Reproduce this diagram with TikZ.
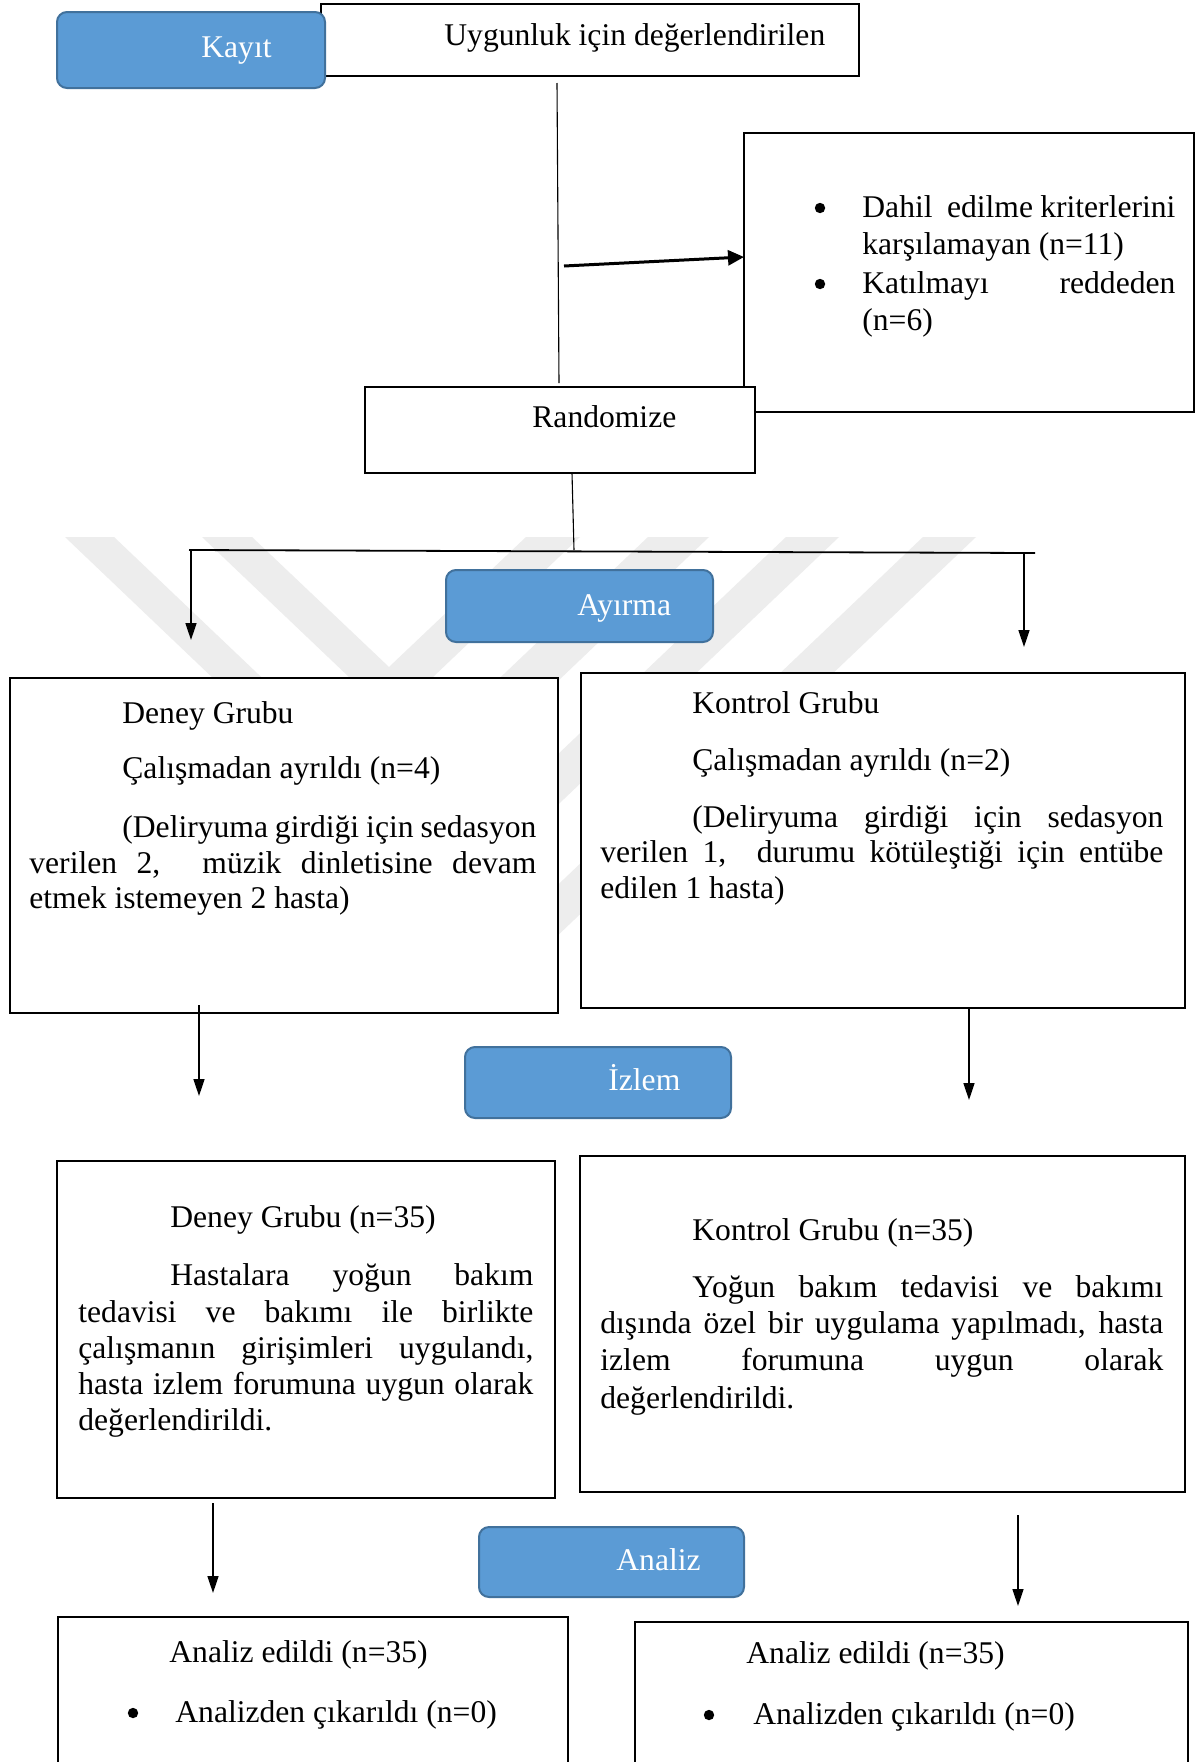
\documentclass[tikz,border=0pt]{standalone}
\usepackage{fontspec}
\setmainfont{Liberation Serif}
\usetikzlibrary{fit,arrows.meta}
\definecolor{bluefill}{HTML}{5B9BD5}
\definecolor{blueline}{HTML}{41719C}
\definecolor{wmgray}{HTML}{EDEDED}
\begin{document}
\begin{tikzpicture}[x=0.5pt,y=-0.5pt,
  box/.style={draw=black,line width=1.1pt,fill=white,inner sep=0pt},
  phase/.style={draw=blueline,line width=1pt,fill=bluefill,rounded corners=5pt,inner sep=0pt},
  txt/.style={anchor=base west,inner sep=0pt,font=\fontsize{15.8}{18}\selectfont},
  wtxt/.style={txt,text=white},
  bul/.style={circle,fill=black,inner sep=0pt,minimum size=5.2pt},
  thinline/.style={line width=0.55pt},
  hline/.style={line width=0.9pt},
  arr/.style={line width=0.8pt,-{Triangle[length=8.5pt,width=5.5pt]}},
  bigarr/.style={line width=1.5pt,-{Triangle[length=8pt,width=7.5pt]}},
  wm/.style={fill=wmgray,draw=none}]

\clip (0,0) rectangle (1196,1762);
\fill[white] (0,0) rectangle (1196,1762);

% watermark
\path[wm] (202,537) -- (252,537) -- (389,667) -- (526,537) -- (580,537) -- (391,717) -- cycle;
\path[wm] (65,537) -- (114,537) -- (381,791) -- (648,537) -- (709,537) -- (387,844) -- cycle;
\path[wm] (786,537) -- (839,537) -- (353,1000) -- (300,1000) -- cycle;
\path[wm] (923,537) -- (976,537) -- (490,1000) -- (437,1000) -- cycle;

% boxes
\node[box, fit={(321,4) (859,76)}] (uyg) {};
\node[phase, fit={(57,12) (325,88)}] (kayit) {};
\node[box, fit={(744,133) (1194,412)}] (excl) {};
\node[box, fit={(365,387) (755,473)}] (rand) {};
\node[phase, fit={(446,570) (713,642)}] (ayirma) {};
\node[box, fit={(10,678) (558,1013)}] (deney) {};
\node[box, fit={(581,673) (1185,1008)}] (kontrol) {};
\node[phase, fit={(465,1047) (731,1118)}] (izlem) {};
\node[box, fit={(57,1161) (555,1498)}] (deneyb) {};
\node[box, fit={(580,1156) (1185,1492)}] (kontrolb) {};
\node[phase, fit={(479,1527) (744,1597)}] (analiz) {};
\node[box, fit={(58,1617) (568,1800)}] (anl) {};
\node[box, fit={(635,1622) (1188,1800)}] (anr) {};

% texts
\node[wtxt] (tkayit) at (201,57) {Kayıt};
\node[txt] (tuyg) at (444,45) {Uygunluk için değerlendirilen};

\node[bul] (eb1) at (820,208) {};
\node[txt] (e1) at (862,217) {\makebox[156.5pt][s]{Dahil \ edilme kriterlerini}};
\node[txt] (e2) at (862,254) {karşılamayan (n=11)};
\node[bul] (eb2) at (820,284) {};
\node[txt] (e3) at (862,293) {\makebox[156.5pt][s]{Katılmayı reddeden}};
\node[txt] (e4) at (862,330) {(n=6)};

\node[txt] (trand) at (532,427) {Randomize};
\node[wtxt] (tayirma) at (577,615) {Ayırma};

\node[txt] (d1) at (122,723) {Deney Grubu};
\node[txt] (d2) at (122,778) {Çalışmadan ayrıldı (n=4)};
\node[txt] (d3) at (122,837) {\makebox[207pt][s]{(Deliryuma girdiği için sedasyon}};
\node[txt] (d4) at (29,873) {\makebox[253.5pt][s]{verilen 2, \ müzik dinletisine devam}};
\node[txt] (d5) at (29,908) {etmek istemeyen 2 hasta)};

\node[txt] (k1) at (692,713) {Kontrol Grubu};
\node[txt] (k2) at (692,770) {Çalışmadan ayrıldı (n=2)};
\node[txt] (k3) at (692,827) {\makebox[235.5pt][s]{(Deliryuma girdiği için sedasyon}};
\node[txt] (k4) at (600,862) {\makebox[281.5pt][s]{verilen 1, \ durumu kötüleştiği için entübe}};
\node[txt] (k5) at (600,898) {edilen 1 hasta)};

\node[wtxt] (tizlem) at (608,1090) {İzlem};

\node[txt] (db1) at (170,1227) {Deney Grubu (n=35)};
\node[txt] (db2) at (170,1285) {\makebox[181.5pt][s]{Hastalara yoğun bakım}};
\node[txt] (db3) at (78,1322) {\makebox[227.5pt][s]{tedavisi ve bakımı ile birlikte}};
\node[txt] (db4) at (78,1358) {\makebox[227.5pt][s]{çalışmanın girişimleri uygulandı,}};
\node[txt] (db5) at (78,1394) {\makebox[227.5pt][s]{hasta izlem forumuna uygun olarak}};
\node[txt] (db6) at (78,1430) {değerlendirildi.};

\node[txt] (kb1) at (692,1240) {Kontrol Grubu (n=35)};
\node[txt] (kb2) at (692,1297) {\makebox[235.5pt][s]{Yoğun bakım tedavisi ve bakımı}};
\node[txt] (kb3) at (600,1333) {\makebox[281.5pt][s]{dışında özel bir uygulama yapılmadı, hasta}};
\node[txt] (kb4) at (600,1370) {\makebox[281.5pt][s]{izlem forumuna uygun olarak}};
\node[txt] (kb5) at (600,1408) {değerlendirildi.};

\node[wtxt] (tanaliz) at (616,1570) {Analiz};

\node[txt] (al1) at (169,1662) {Analiz edildi (n=35)};
\node[bul] (alb) at (133,1713) {};
\node[txt] (al2) at (175,1722) {Analizden çıkarıldı (n=0)};
\node[txt] (ar1) at (746,1663) {Analiz edildi (n=35)};
\node[bul] (arb) at (709,1715) {};
\node[txt] (ar2) at (753,1724) {Analizden çıkarıldı (n=0)};

% connector coordinates
\coordinate (v1) at (557,83);
\coordinate (v2) at (559,383);
\coordinate (x1) at (564,266);
\coordinate (x2) at (744,257);
\coordinate (r1) at (572,473);
\coordinate (r2) at (574,550);
\coordinate (hl) at (189,550);
\coordinate (hr) at (1035,553);
\coordinate (la) at (191,550);
\coordinate (lb) at (191,640);
\coordinate (ra) at (1024,553);
\coordinate (rb) at (1024,647);
\coordinate (m1) at (199,1005);
\coordinate (m2) at (199,1096);
\coordinate (m3) at (969,1008);
\coordinate (m4) at (969,1100);
\coordinate (n1) at (213,1503);
\coordinate (n2) at (213,1593);
\coordinate (n3) at (1018,1515);
\coordinate (n4) at (1018,1606);

\draw[thinline] (v1) -- (v2);
\draw[bigarr] (x1) -- (x2);
\draw[thinline] (r1) -- (r2);
\draw[hline] (hl) -- (hr);
\draw[arr] (la) -- (lb);
\draw[arr] (ra) -- (rb);
\draw[arr] (m1) -- (m2);
\draw[arr] (m3) -- (m4);
\draw[arr] (n1) -- (n2);
\draw[arr] (n3) -- (n4);
\end{tikzpicture}
\end{document}
